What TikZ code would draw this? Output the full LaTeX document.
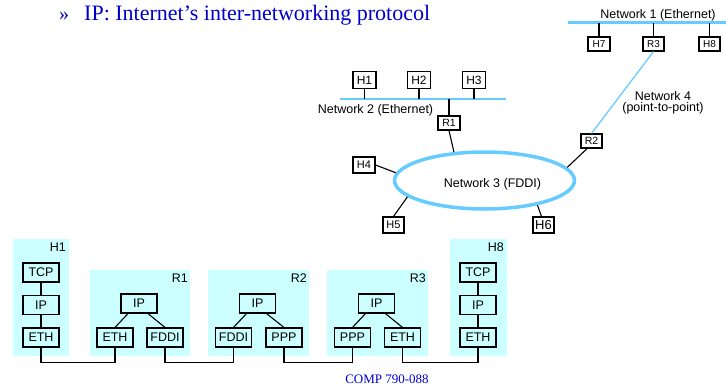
\documentclass[tikz,border=0pt]{standalone}
\usepackage{fontspec}
\setmainfont{Liberation Sans}
\newfontfamily\tms{Liberation Serif}
\usetikzlibrary{shapes.geometric,calc}
\definecolor{netblue}{RGB}{102,204,255}
\definecolor{panelcyan}{RGB}{204,255,255}
\definecolor{titleblue}{RGB}{0,0,204}
\begin{document}
\begin{tikzpicture}[x=1pt,y=-1pt,
  hbox/.style={draw, line width=1.1pt, fill=white, inner sep=0pt, minimum width=22pt, minimum height=14pt, font=\fontsize{10.5}{12}\selectfont},
  layer/.style={draw, line width=1.2pt, inner sep=0pt, minimum width=36pt, minimum height=19pt, font=\fontsize{12.5}{14}\selectfont},
  lbl/.style={inner sep=0pt, font=\fontsize{12.5}{14}\selectfont},
  wire/.style={line width=1.1pt},
  ether/.style={netblue, line width=2.6pt},
  ttl/.style={inner sep=0pt, text=titleblue},
]
\useasboundingbox (0,0) rectangle (726,386);

% title
\node[ttl, anchor=base west, font=\tms\fontsize{20}{24}\selectfont] (bullet) at (59,20) {»};
\node[ttl, anchor=base west, font=\tms\fontsize{22}{26}\selectfont] (title) at (84,20) {IP: Internet’s inter-networking protocol};

% Network 1
\coordinate (n1a) at (568,22.7);
\coordinate (n1b) at (726,22.7);
\draw[ether] (n1a) -- (n1b);
\node[lbl, anchor=base] (n1lbl) at (658,18) {Network 1 (Ethernet)};
\node[hbox, font=\fontsize{10}{12}\selectfont] (h7) at (599,44) {H7};
\node[hbox, minimum width=21pt, font=\fontsize{10}{12}\selectfont] (r3) at (653.5,44) {R3};
\node[hbox, minimum width=21pt, font=\fontsize{10}{12}\selectfont] (h8) at (709.5,44) {H8};
\foreach \n in {h7,r3,h8} \draw[wire] (\n.north) -- (\n.north |- n1a);

% Network 2
\coordinate (n2a) at (340,99);
\coordinate (n2b) at (506,99);
\draw[ether] (n2a) -- (n2b);
\node[lbl, anchor=base] (n2lbl) at (375.5,113) {Network 2 (Ethernet)};
\node[hbox, minimum width=23pt, minimum height=17pt, font=\fontsize{12}{14}\selectfont] (h1) at (364.5,80) {H1};
\node[hbox, minimum width=23pt, minimum height=17pt, font=\fontsize{12}{14}\selectfont] (h2) at (419,80) {H2};
\node[hbox, minimum width=23pt, minimum height=17pt, font=\fontsize{12}{14}\selectfont] (h3) at (474,80) {H3};
\foreach \n in {h1,h2,h3} \draw[wire] (\n.south) -- (\n.south |- n2a);
\node[hbox] (r1) at (449,123) {R1};
\draw[wire] (r1.north) -- (r1.north |- n2a);

% Network 4
\node[hbox, minimum width=21pt] (r2) at (591.5,141) {R2};
\draw[netblue, line width=1.3pt] (r3.south) -- (r2.north);
\node[lbl, anchor=base] (n4a) at (663,100) {Network 4};
\node[lbl, anchor=base] (n4b) at (663,111) {(point-to-point)};

% Network 3
\node[hbox, minimum height=16pt, font=\fontsize{11}{13}\selectfont] (h4) at (364,165) {H4};
\node[hbox, minimum width=21pt, minimum height=16pt, font=\fontsize{11}{13}\selectfont] (h5) at (393.5,225) {H5};
\node[hbox, minimum width=21pt, minimum height=16pt, font=\fontsize{13}{15}\selectfont] (h6) at (543.5,225) {H6};
\node[ellipse, draw=netblue, line width=3.5pt, minimum width=180pt, minimum height=57pt, inner sep=0pt] (fddi) at (484.5,180.5) {};
\node[lbl, anchor=base] (n3lbl) at (492.5,187) {Network 3 (FDDI)};
\draw[wire] (r1.south) -- (fddi.137);
\draw[wire] (h4.east) -- (fddi.175);
\draw[wire] (h5.north) -- (fddi.192);
\draw[wire] ($(h6.north)+(-2,0)$) -- (fddi.335);
\draw[wire] (r2.-120) -- (fddi.9);

% protocol stacks
\fill[panelcyan] (12.7,239) rectangle (69,356);
\fill[panelcyan] (90,270) rectangle (190,356);
\fill[panelcyan] (208,270) rectangle (309,356);
\fill[panelcyan] (327,270) rectangle (428,356);
\fill[panelcyan] (450,239) rectangle (507,356);

\node[lbl, anchor=east] (sh1) at (66,247) {H1};
\node[lbl, anchor=east] (sr1) at (188,278) {R1};
\node[lbl, anchor=east] (sr2) at (307,278) {R2};
\node[lbl, anchor=east] (sr3) at (426,278) {R3};
\node[lbl, anchor=east] (sh8) at (504,247) {H8};

% host H1
\node[layer] (h1tcp) at (41,272.5) {TCP};
\node[layer] (h1ip) at (41,305) {IP};
\node[layer] (h1eth) at (41,337.5) {ETH};
\draw[wire] (h1tcp.south) -- (h1ip.north);
\draw[wire] (h1ip.south) -- (h1eth.north);

% router R1
\node[layer] (r1ip) at (139,303.5) {IP};
\node[layer] (r1eth) at (115,337.5) {ETH};
\node[layer] (r1fddi) at (165,337.5) {FDDI};
\draw[wire] ($(r1ip.south)+(-11,0)$) -- (r1eth.north);
\draw[wire] ($(r1ip.south)+(9,0)$) -- (r1fddi.north);

% router R2
\node[layer] (r2ip) at (257.5,303.5) {IP};
\node[layer] (r2fddi) at (233.5,337.5) {FDDI};
\node[layer] (r2ppp) at (284,337.5) {PPP};
\draw[wire] ($(r2ip.south)+(-11,0)$) -- (r2fddi.north);
\draw[wire] ($(r2ip.south)+(9,0)$) -- (r2ppp.north);

% router R3
\node[layer] (r3ip) at (376.5,303.5) {IP};
\node[layer] (r3ppp) at (352.5,337.5) {PPP};
\node[layer] (r3eth) at (402.5,337.5) {ETH};
\draw[wire] ($(r3ip.south)+(-11,0)$) -- (r3ppp.north);
\draw[wire] ($(r3ip.south)+(9,0)$) -- (r3eth.north);

% host H8
\node[layer] (h8tcp) at (478,272.5) {TCP};
\node[layer] (h8ip) at (478,305) {IP};
\node[layer] (h8eth) at (478,337.5) {ETH};
\draw[wire] (h8tcp.south) -- (h8ip.north);
\draw[wire] (h8ip.south) -- (h8eth.north);

% links
\draw[wire] (h1eth.south) -- ++(0,15) -| (r1eth.south);
\draw[wire] (r1fddi.south) -- ++(0,15) -| (r2fddi.south);
\draw[wire] (r2ppp.south) -- ++(0,15) -| (r3ppp.south);
\draw[wire] (r3eth.south) -- ++(0,15) -| (h8eth.south);

% footer
\node[ttl, anchor=base, font=\tms\fontsize{13}{15}\selectfont] (foot) at (387,383) {COMP 790-088};
\end{tikzpicture}
\end{document}
